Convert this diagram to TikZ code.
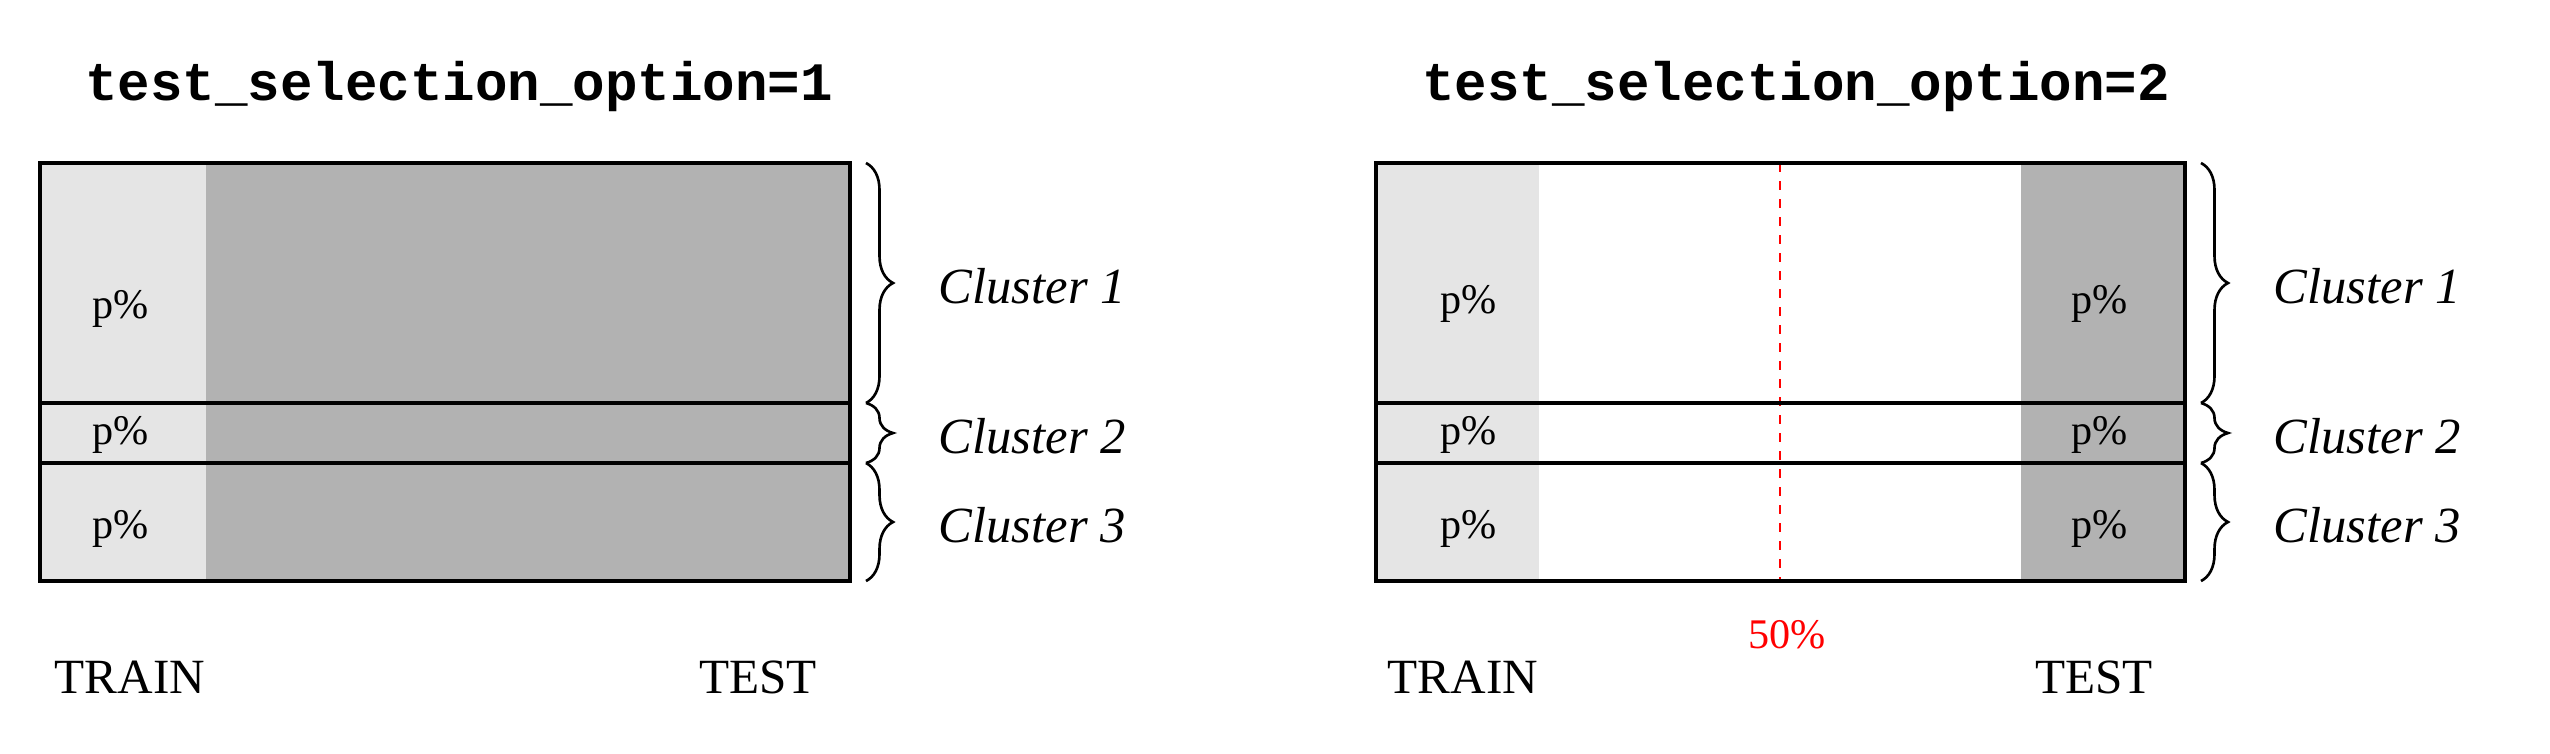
\documentclass[tikz,border=0pt]{standalone}
\usepackage{fontspec}
\setmainfont{Liberation Serif}
\setmonofont{Liberation Mono}
\usetikzlibrary{decorations.pathreplacing}
\definecolor{trainfill}{gray}{0.90}
\definecolor{testfill}{gray}{0.70}
\begin{document}
\begin{tikzpicture}[x={(0.01cm,0)}, y={(0,-0.01cm)},
  boxline/.style={line width=0.95pt},
  bracestyle/.style={decorate, decoration={brace, amplitude=0.27cm}, line width=0.75pt},
  titletext/.style={anchor=base, inner sep=0pt, font=\fontsize{15.4}{18}\selectfont\ttfamily\bfseries},
  pct/.style={anchor=base, inner sep=0pt, font=\fontsize{12}{14}\selectfont},
  axislabel/.style={anchor=base, inner sep=0pt, font=\fontsize{14}{16}\selectfont},
  clusterlabel/.style={anchor=west, inner sep=0pt, xshift=0.45cm, yshift=-0.03cm, font=\fontsize{14.4}{16}\selectfont\itshape},
  halfline/.style={red, dash pattern=on 0.09cm off 0.09cm, line width=0.8pt}]
\useasboundingbox (0,0) rectangle (2550,753);

% ---------------- left panel ----------------
\node[titletext] (t1) at (459,100) {test\_selection\_option=1};
\fill[testfill] (40,163) rectangle (850,581);
\fill[trainfill] (40,163) rectangle (206,581);
\coordinate (L1a) at (40,403); \coordinate (L1b) at (850,403);
\coordinate (L2a) at (40,463); \coordinate (L2b) at (850,463);
\draw[boxline] (40,163) rectangle (850,581);
\draw[boxline] (L1a) -- (L1b);
\draw[boxline] (L2a) -- (L2b);

\node[pct] (lp1) at (121,318) {p\%};
\node[pct] (lp2) at (121,444) {p\%};
\node[pct] (lp3) at (121,538) {p\%};

\coordinate (lb0) at (866,163);
\coordinate (lb1) at (866,403);
\coordinate (lb2) at (866,463);
\coordinate (lb3) at (866,581);
\draw[bracestyle] (lb0) -- (lb1) coordinate[midway] (lm1);
\draw[bracestyle] (lb1) -- (lb2) coordinate[midway] (lm2);
\draw[bracestyle] (lb2) -- (lb3) coordinate[midway] (lm3);
\node[clusterlabel] (lc1) at ([xshift=0.27cm]lm1) {Cluster 1};
\node[clusterlabel] (lc2) at ([xshift=0.27cm]lm2) {Cluster 2};
\node[clusterlabel] (lc3) at ([xshift=0.27cm]lm3) {Cluster 3};

\node[axislabel] (ltrain) at (130,693) {TRAIN};
\node[axislabel] (ltest) at (758,693) {TEST};

% ---------------- right panel ----------------
\node[titletext] (t2) at (1796,100) {test\_selection\_option=2};
\fill[trainfill] (1376,163) rectangle (1539,581);
\fill[testfill] (2021,163) rectangle (2185,581);
\coordinate (dtop) at (1780,163);
\coordinate (dbot) at (1780,581);
\draw[halfline] (dtop) -- (dbot);
\coordinate (R1a) at (1376,403); \coordinate (R1b) at (2185,403);
\coordinate (R2a) at (1376,463); \coordinate (R2b) at (2185,463);
\draw[boxline] (1376,163) rectangle (2185,581);
\draw[boxline] (R1a) -- (R1b);
\draw[boxline] (R2a) -- (R2b);

\node[pct] (rp1) at (1469,313) {p\%};
\node[pct] (rp2) at (1469,444) {p\%};
\node[pct] (rp3) at (1469,538) {p\%};
\node[pct] (rq1) at (2100,313) {p\%};
\node[pct] (rq2) at (2100,444) {p\%};
\node[pct] (rq3) at (2100,538) {p\%};

\coordinate (rb0) at (2201,163);
\coordinate (rb1) at (2201,403);
\coordinate (rb2) at (2201,463);
\coordinate (rb3) at (2201,581);
\draw[bracestyle] (rb0) -- (rb1) coordinate[midway] (rm1);
\draw[bracestyle] (rb1) -- (rb2) coordinate[midway] (rm2);
\draw[bracestyle] (rb2) -- (rb3) coordinate[midway] (rm3);
\node[clusterlabel] (rc1) at ([xshift=0.27cm]rm1) {Cluster 1};
\node[clusterlabel] (rc2) at ([xshift=0.27cm]rm2) {Cluster 2};
\node[clusterlabel] (rc3) at ([xshift=0.27cm]rm3) {Cluster 3};

\node[pct, red] (half) at (1787,648) {50\%};
\node[axislabel] (rtrain) at (1463,693) {TRAIN};
\node[axislabel] (rtest) at (2094,693) {TEST};
\end{tikzpicture}
\end{document}
